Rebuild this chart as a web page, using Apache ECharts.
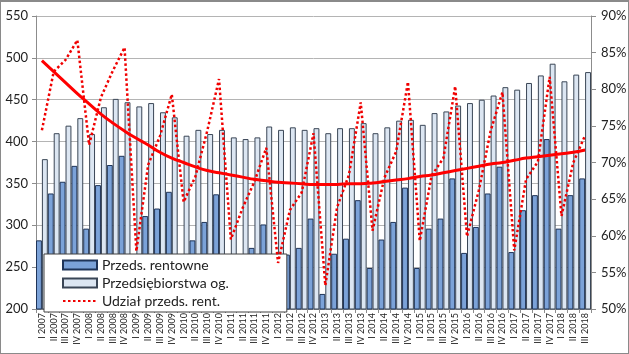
<!DOCTYPE html>
<html>
<head>
<meta charset="utf-8">
<script src="https://cdn.jsdelivr.net/npm/echarts@6/dist/echarts.min.js"></script>
<style>
  html, body { margin: 0; padding: 0; background: #fff; }
  #chart { position: absolute; left: 0; top: 0; width: 629px; height: 354px; }
  #frame {
    position: absolute; left: 0; top: 0; width: 629px; height: 354px;
    box-sizing: border-box; border: 1px solid #8a8a8a; border-top-width: 2px;
    pointer-events: none;
  }
</style>
</head>
<body>
<div id="chart"></div>
<div id="frame"></div>
<script>
// kwartały I 2007 - III 2018
const quarters = [];
for (let y = 2007; y <= 2018; y++) {
  for (const q of ["I", "II", "III", "IV"]) {
    if (y === 2018 && q === "IV") break;
    quarters.push(q + " " + y);
  }
}

// Przeds. rentowne
const rentowne = [
  282, 338, 352, 371, 296, 348, 372, 383, 256, 311, 320, 340,
  263, 282, 304, 337, 241, 257, 273, 301, 233, 265, 273, 308,
  218, 266, 284, 330, 249, 283, 304, 345, 249, 296, 308, 356,
  267, 298, 338, 370, 268, 318, 336, 403, 296, 336, 356
];

// Przedsiębiorstwa og.
const ogolem = [
  379, 410, 419, 428, 409, 441, 451, 447, 442, 446, 435, 429,
  407, 414, 409, 414, 405, 403, 405, 418, 414, 417, 414, 416,
  410, 416, 416, 422, 410, 417, 425, 426, 420, 434, 436, 443,
  446, 450, 455, 465, 462, 470, 479, 493, 472, 480, 483
];

// Udział przeds. rent. (%)
const udzial = [
  74.4, 82.4, 84.0, 86.7, 72.4, 78.9, 82.5, 85.7, 57.9, 69.7, 73.6, 79.3,
  64.6, 68.1, 74.3, 81.4, 59.5, 63.8, 67.4, 72.0, 56.3, 63.5, 65.9, 74.0,
  53.2, 63.9, 68.3, 78.2, 60.7, 67.9, 71.5, 81.0, 59.3, 68.2, 70.6, 80.4,
  59.9, 66.2, 74.3, 79.6, 58.0, 67.7, 70.1, 81.7, 62.7, 70.0, 73.7
];

// linia trendu (%)
const trend = [
  83.9, 82.4, 80.9, 79.4, 78.0, 76.6, 75.4, 74.3, 73.3, 72.4, 71.4, 70.6,
  70.0, 69.4, 68.9, 68.6, 68.3, 68.0, 67.7, 67.5, 67.3, 67.2, 67.1, 67.0,
  67.0, 67.0, 67.1, 67.1, 67.2, 67.4, 67.6, 67.8, 68.1, 68.3, 68.6, 68.9,
  69.2, 69.5, 69.8, 70.0, 70.3, 70.6, 70.8, 71.0, 71.2, 71.4, 71.7
];

const leftTicks = { min: 200, max: 550, step: 50 };
const rightTicks = { min: 50, max: 90, step: 5 };

const font = "Lato, 'Open Sans', sans-serif";
const axisGrey = "#8c8c8c";

const option = {
  animation: false,
  textStyle: { fontFamily: font },
  grid: {
    left: 36,
    right: 38,
    top: 16,
    bottom: 45,
    outerBoundsMode: "none",
  },
  legend: {
    orient: "vertical",
    left: 44,
    top: 254,
    data: [
      { name: "Przeds. rentowne", icon: "rect" },
      { name: "Przedsiębiorstwa og.", icon: "rect" },
      { name: "Udział przeds. rent.", itemStyle: { opacity: 0 } },
    ],
    backgroundColor: "#fff",
    borderColor: "#404040",
    borderWidth: 1,
    borderRadius: 0,
    padding: [4, 58, 4, 18],
    itemWidth: 34,
    itemHeight: 9,
    itemGap: 4,
    textStyle: { fontFamily: font, fontSize: 14, color: "#222" },
  },
  xAxis: {
    type: "category",
    data: quarters,
    axisLine: { lineStyle: { color: axisGrey } },
    axisTick: { show: true, length: 4, lineStyle: { color: axisGrey } },
    axisLabel: {
      interval: 0,
      rotate: 90,
      fontSize: 9,
      margin: 4,
      color: "#222",
      fontFamily: font,
    },
  },
  yAxis: [
    {
      type: "value",
      min: leftTicks.min,
      max: leftTicks.max,
      interval: leftTicks.step,
      axisLine: { show: true, lineStyle: { color: axisGrey } },
      axisTick: { show: true, length: 4, lineStyle: { color: axisGrey } },
      axisLabel: { fontSize: 13, color: "#222", margin: 8, fontFamily: font },
      splitLine: { lineStyle: { color: "#b4b4b4", width: 1 } },
    },
    {
      type: "value",
      min: rightTicks.min,
      max: rightTicks.max,
      interval: rightTicks.step,
      axisLine: { show: true, lineStyle: { color: axisGrey } },
      axisTick: { show: true, length: 5, lineStyle: { color: axisGrey } },
      axisLabel: {
        fontSize: 13,
        color: "#222",
        margin: 10,
        fontFamily: font,
        formatter: "{value}%",
      },
      splitLine: { show: false },
    },
  ],
  series: [
    {
      name: "Przeds. rentowne",
      type: "bar",
      data: rentowne,
      barGap: "0%",
      barCategoryGap: "0%",
      itemStyle: { color: "#7ba2d8", borderColor: "#1f3458", borderWidth: 1 },
      z: 2,
    },
    {
      name: "Przedsiębiorstwa og.",
      type: "bar",
      data: ogolem,
      barGap: "0%",
      barCategoryGap: "0%",
      itemStyle: { color: "#dce6f2", borderColor: "#3a4656", borderWidth: 1 },
      z: 2,
    },
    {
      name: "Udział przeds. rent.",
      type: "line",
      yAxisIndex: 1,
      data: udzial,
      symbol: "none",
      itemStyle: { color: "#f00000" },
      lineStyle: { color: "#f00000", width: 2.5, type: [2.5, 2.5] },
      z: 4,
    },
    {
      name: "trend",
      type: "line",
      yAxisIndex: 1,
      data: trend,
      symbol: "none",
      smooth: true,
      itemStyle: { color: "#ff0000" },
      lineStyle: { color: "#ff0000", width: 3 },
      z: 5,
    },
  ],
};

const myChart = echarts.init(document.getElementById("chart"), null, { renderer: "canvas" });
myChart.setOption(option);
</script>
</body>
</html>
